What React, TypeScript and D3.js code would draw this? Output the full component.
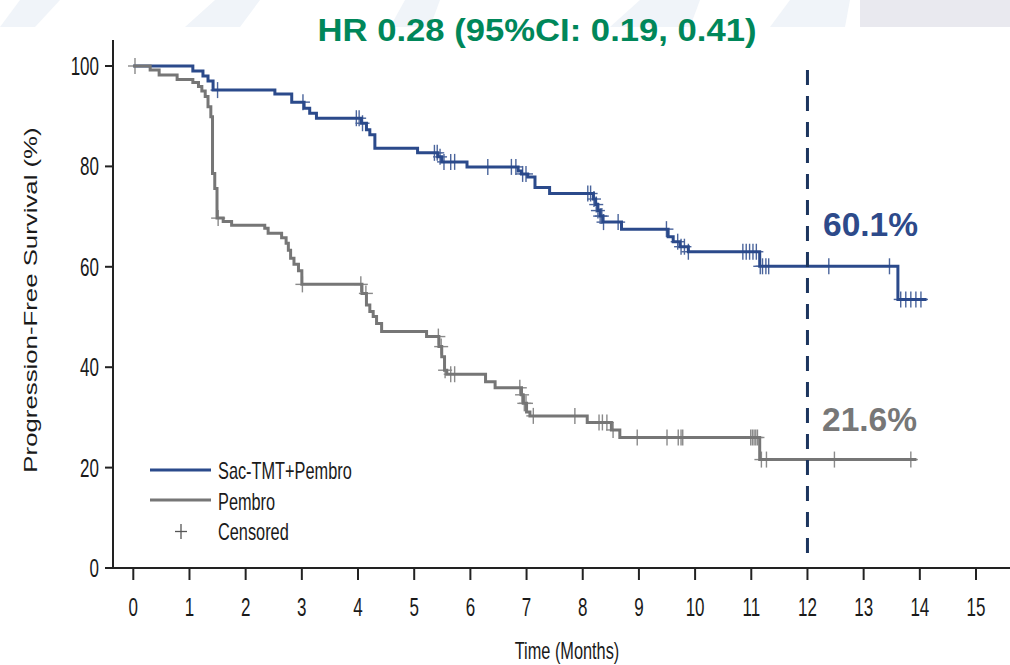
import * as d3 from 'd3';

// step data (months, % progression free)
const sacTimes = [0, 1.06, 1.24, 1.33, 1.42, 2.52, 2.82, 3.04, 3.14, 3.26, 4.06, 4.15, 4.21, 4.3, 5.06, 5.42, 5.49, 5.94, 6.85, 6.91, 7.02, 7.15, 7.41, 8.19, 8.23, 8.27, 8.31, 8.36, 8.69, 9.52, 9.61, 9.73, 9.88, 11.15, 13.61, 14.12];
const sacValues = [100, 99.0, 98.0, 97.0, 95.2, 94.4, 92.8, 91.6, 90.6, 89.6, 88.6, 87.3, 86.3, 83.6, 82.7, 81.9, 80.9, 79.9, 79.1, 78.5, 77.9, 75.8, 74.6, 73.5, 72.4, 71.2, 70.1, 68.9, 67.5, 66.0, 65.0, 64.0, 63.0, 60.1, 53.5, 53.5];
const sacCensored = [1.5, 3.02, 3.97, 4.02, 4.08, 5.36, 5.41, 5.46, 5.53, 5.65, 5.72, 6.31, 6.73, 6.81, 6.93, 6.99, 8.09, 8.14, 8.2, 8.24, 8.27, 8.31, 8.34, 8.37, 8.63, 9.49, 9.69, 9.75, 9.81, 9.88, 10.85, 10.91, 10.97, 11.03, 11.09, 11.16, 11.2, 11.26, 11.31, 12.38, 13.46, 13.66, 13.75, 13.84, 13.93, 14.02];

const pemTimes = [0, 0.3, 0.46, 0.78, 1.06, 1.16, 1.22, 1.28, 1.33, 1.38, 1.41, 1.45, 1.49, 1.6, 1.75, 2.34, 2.4, 2.64, 2.72, 2.76, 2.8, 2.86, 2.94, 3.0, 4.07, 4.15, 4.21, 4.27, 4.33, 4.42, 5.22, 5.44, 5.49, 5.54, 5.58, 6.27, 6.44, 6.91, 6.94, 7.0, 7.06, 8.08, 8.51, 8.66, 11.15, 13.94];
const pemValues = [100, 99.2, 98.2, 97.3, 96.7, 95.9, 95.0, 93.9, 91.9, 89.9, 78.6, 75.6, 69.7, 69.0, 68.3, 67.7, 66.7, 65.8, 64.7, 63.3, 61.7, 60.5, 59.2, 56.5, 54.7, 52.4, 51.1, 50.1, 48.7, 47.1, 46.1, 44.1, 42.1, 39.4, 38.6, 37.1, 35.9, 34.5, 32.8, 31.1, 30.3, 29.0, 27.5, 26.0, 21.6, 21.6];
const pemCensored = [0.03, 1.51, 3.01, 4.05, 4.14, 5.43, 5.48, 5.55, 5.65, 5.72, 6.88, 6.92, 6.96, 6.99, 7.12, 7.86, 8.29, 8.35, 8.43, 8.54, 8.97, 9.5, 9.7, 9.75, 9.78, 10.99, 11.02, 11.05, 11.08, 11.11, 11.18, 11.27, 12.48, 13.84];

const monthTicks = d3.range(0, 16);
const pctTicks = [0, 20, 40, 60, 80, 100];
const legendLabels = ['Sac-TMT+Pembro', 'Pembro', 'Censored'];
const landmarkMonth = 12;
const landmarkLabels = ['60.1%', '21.6%'];

const BLUE = '#2b4a8b';
const GREY = '#767676';
const FONT = 'Liberation Sans, Arial, sans-serif';
const SQUEEZE = 0.68;

function Txt({ x, y, size, k = SQUEEZE, anchor = 'start', weight = 'normal', fill = '#1a1a1a', rotate = 0, children }: any) {
  return (
    <text
      transform={`translate(${x},${y}) scale(${k},1)${rotate ? ` rotate(${rotate})` : ''}`}
      textAnchor={anchor}
      fontSize={size}
      fontWeight={weight}
      fill={fill}
      fontFamily={FONT}
    >
      {children}
    </text>
  );
}

function valueAt(times: number[], values: number[], t: number) {
  const i = d3.bisectRight(times, t) - 1;
  return values[Math.max(0, i)];
}

export default function App() {
  const x = d3.scaleLinear().domain([0, 15]).range([133.3, 976]);
  const y = d3.scaleLinear().domain([0, 100]).range([568, 66]);

  const step = d3
    .line<[number, number]>()
    .x((d) => x(d[0]))
    .y((d) => y(d[1]))
    .curve(d3.curveStepAfter);

  const curves = [
    { times: sacTimes, values: sacValues, censored: sacCensored, color: BLUE },
    { times: pemTimes, values: pemValues, censored: pemCensored, color: GREY },
  ];

  return (
    <svg width={1010} height={665} style={{ position: 'absolute', left: 0, top: 0, background: '#fff' }}>
      {/* faint slide header */}
      <rect x={860} y={0} width={150} height={27} fill="#e9e9ef" />
      <g fill="#f0f4f9">
        <polygon points="0,27 20,0 60,0 35,27" />
        <polygon points="185,27 215,0 260,0 240,27" />
        <polygon points="390,27 405,0 440,0 430,27" />
        <polygon points="610,27 640,0 700,0 690,27" />
        <polygon points="770,27 790,0 850,0 845,27" />
      </g>

      <text x={537} y={41} textAnchor="middle" fontSize={31} fontWeight="bold" fill="#00875a" fontFamily={FONT} textLength={439} lengthAdjust="spacingAndGlyphs">
        HR 0.28 (95%CI: 0.19, 0.41)
      </text>

      {/* axes */}
      <g stroke="#222" strokeWidth={2}>
        <line x1={113} x2={113} y1={40} y2={569} />
        <line x1={112} x2={1010} y1={568} y2={568} />
        {pctTicks.map((t) => (
          <line key={'yt' + t} x1={105} x2={113} y1={y(t)} y2={y(t)} />
        ))}
        {monthTicks.map((t) => (
          <line key={'xt' + t} x1={x(t)} x2={x(t)} y1={568} y2={580} />
        ))}
      </g>
      {pctTicks.map((t) => (
        <Txt key={'yl' + t} x={99} y={y(t) + 9} size={25} anchor="end">
          {t}
        </Txt>
      ))}
      {monthTicks.map((t) => (
        <Txt key={'xl' + t} x={x(t)} y={616} size={25} anchor="middle">
          {t}
        </Txt>
      ))}
      <Txt x={567} y={659} size={24} anchor="middle">
        Time (Months)
      </Txt>
      <Txt x={37} y={300} size={25.8} k={0.7} anchor="middle" rotate={-90}>
        Progression-Free Survival (%)
      </Txt>

      {/* KM curves */}
      {curves.map((c, i) => (
        <g key={'c' + i}>
          <path
            d={step(c.times.map((t, j) => [t, c.values[j]] as [number, number])) || ''}
            fill="none"
            stroke={c.color}
            strokeWidth={3}
          />
          <g stroke={c.color} strokeWidth={1.4} opacity={0.85}>
            {c.censored.map((t, j) => {
              const cx = x(t);
              const cy = y(valueAt(c.times, c.values, t));
              return (
                <g key={j}>
                  <line x1={cx} x2={cx} y1={cy - 8} y2={cy + 8} />
                  <line x1={cx - 7} x2={cx + 7} y1={cy} y2={cy} />
                </g>
              );
            })}
          </g>
        </g>
      ))}

      {/* 12 month landmark */}
      <line
        x1={x(landmarkMonth)}
        x2={x(landmarkMonth)}
        y1={70}
        y2={560}
        stroke="#1c355e"
        strokeWidth={3}
        strokeDasharray="15,11"
      />
      <text x={823} y={236} fontSize={34} fontWeight="bold" fill="#2d4a8a" fontFamily={FONT} textLength={95} lengthAdjust="spacingAndGlyphs">
        {landmarkLabels[0]}
      </text>
      <text x={822} y={431} fontSize={33} fontWeight="bold" fill="#777" fontFamily={FONT} textLength={95} lengthAdjust="spacingAndGlyphs">
        {landmarkLabels[1]}
      </text>

      {/* legend */}
      <line x1={150} x2={211} y1={470} y2={470} stroke={BLUE} strokeWidth={3} />
      <line x1={150} x2={211} y1={500} y2={500} stroke={GREY} strokeWidth={3} />
      <g stroke="#555" strokeWidth={1.3}>
        <line x1={181} x2={181} y1={524} y2={539} />
        <line x1={175} x2={187} y1={531.5} y2={531.5} />
      </g>
      {legendLabels.map((l, i) => (
        <Txt key={l} x={218} y={479 + i * 30.5} size={24}>
          {l}
        </Txt>
      ))}
    </svg>
  );
}
